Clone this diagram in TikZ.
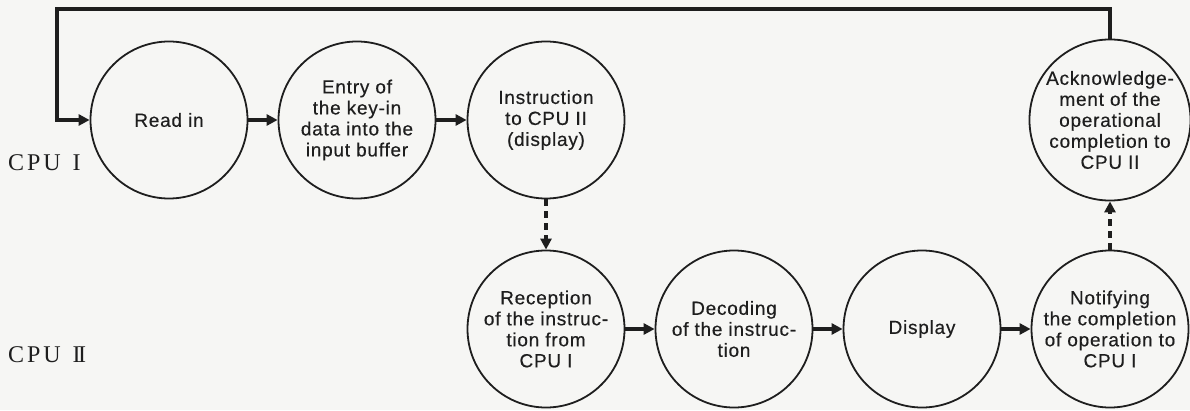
\documentclass[tikz,border=0pt]{standalone}
\usepackage{fontspec}
\setmainfont{Liberation Serif}
\newfontfamily\circfont[LetterSpace=4,FakeBold=0.4]{Liberation Sans}
\newfontfamily\cpufont[LetterSpace=12]{Liberation Serif}
\usetikzlibrary{arrows.meta}
\definecolor{paper}{RGB}{246,246,244}
\definecolor{ink}{RGB}{30,30,30}
\begin{document}
\begin{tikzpicture}[x=1pt,y=1pt,
  proc/.style={circle, draw=ink, line width=1.8pt, minimum size=157pt, inner sep=0pt,
    align=center, font=\circfont\fontsize{19}{21}\selectfont, text=ink},
  flow/.style={draw=ink, line width=3.4pt, line join=miter,
    -{Triangle[length=11pt,width=11pt]}},
  signal/.style={flow, dash pattern=on 7pt off 5pt},
  cpulabel/.style={font=\cpufont\fontsize{24}{26}\selectfont, text=ink, anchor=west, inner sep=0pt}]
\fill[paper] (0,0) rectangle (1190,410);
\useasboundingbox (0,0) rectangle (1190,410);

\node[proc] (read)   at (169,290) {Read in};
\node[proc] (entry)  at (357,290) {Entry of\\the key-in\\data into the\\input buffer};
\node[proc] (instr)  at (546,290) {Instruction\\to CPU II\\(display)};
\node[proc] (ack)    at (1110,290) {Acknowledge-\\ment of the\\operational\\completion to\\CPU II};
\node[proc] (recv)   at (546,81) {Reception\\of the instruc-\\tion from\\CPU I};
\node[proc] (dec)    at (734,81) {Decoding\\of the instruc-\\tion};
\node[proc] (disp)   at (922,81) {Display};
\node[proc] (notify) at (1110,81) {Notifying\\the completion\\of operation to\\CPU I};

\node[cpulabel] (cpu1) at (8,247) {CPU\hspace{12pt}I};
\node[cpulabel] (cpu2) at (8,55) {CPU\hspace{12pt}I\kern-2.6pt I};

\coordinate (tr) at (1110,401);
\coordinate (tl) at (57,401);
\coordinate (bl) at (57,290);

\draw[flow] (ack.north) -- (tr) -- (tl) -- (bl) -- (read.west);
\draw[flow] (read) -- (entry);
\draw[flow] (entry) -- (instr);
\draw[flow] (recv) -- (dec);
\draw[flow] (dec) -- (disp);
\draw[flow] (disp) -- (notify);
\draw[signal] (instr) -- (recv);
\draw[signal] (notify) -- (ack);
\end{tikzpicture}
\end{document}
